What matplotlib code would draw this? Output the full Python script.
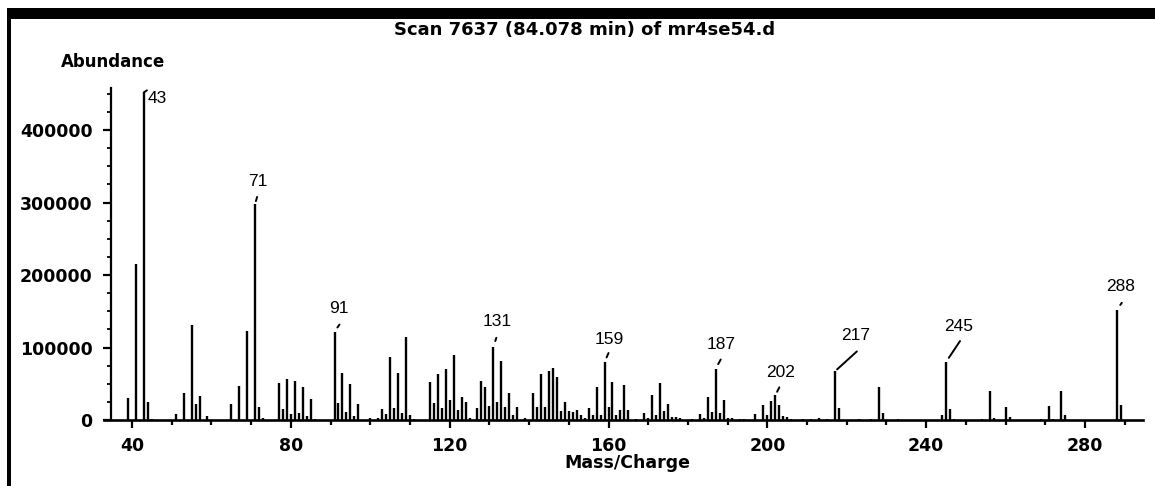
import matplotlib
matplotlib.use("Agg")
import matplotlib.pyplot as plt
from matplotlib.patches import Rectangle
from matplotlib.ticker import MultipleLocator, FixedLocator

# peak list (m/z, abundance)
mz = [39, 41, 43, 44, 45, 51, 53, 55, 56, 57, 59, 65, 67, 69, 71, 72, 73,
      77, 78, 79, 80, 81, 82, 83, 84, 85, 86, 91, 92, 93, 94, 95, 96, 97,
      100, 102, 103, 104, 105, 106, 107, 108, 109, 110, 111,
      115, 116, 117, 118, 119, 120, 121, 122, 123, 124, 125,
      127, 128, 129, 130, 131, 132, 133, 134, 135, 136, 137, 139,
      141, 142, 143, 144, 145, 146, 147, 148, 149, 150, 151, 152, 153, 154,
      155, 156, 157, 158, 159, 160, 161, 162, 163, 164, 165, 167, 169, 170,
      171, 172, 173, 174, 175, 176, 177, 178, 181, 183, 184, 185, 186, 187,
      188, 189, 190, 191, 193, 194, 197, 199, 200, 201, 202, 203, 204, 205,
      206, 209, 211, 213, 215, 217, 218, 223, 226, 228, 229, 233,
      244, 245, 246, 247, 254, 256, 257, 260, 261, 269, 271, 272, 274, 275,
      288, 289]
abundance = [30000, 215000, 452000, 25000, 2000, 8000, 37000, 131000, 22000, 33000, 6000,
             22000, 47000, 123000, 298000, 18000, 3000,
             51000, 15000, 56000, 8000, 54000, 10000, 45000, 5000, 29000, 2000,
             122000, 24000, 65000, 11000, 49000, 5000, 22000,
             3000, 3000, 15000, 8000, 87000, 17000, 65000, 9000, 114000, 7000, 2000,
             52000, 23000, 64000, 16000, 70000, 28000, 89000, 14000, 32000, 25000, 3000,
             17000, 54000, 46000, 19000, 101000, 25000, 82000, 18000, 37000, 7000, 18000, 3000,
             37000, 18000, 64000, 18000, 67000, 72000, 59000, 12000, 25000, 12000, 11000, 14000, 7000, 3000,
             17000, 7000, 46000, 7000, 80000, 18000, 53000, 7000, 14000, 48000, 14000, 2000, 9000, 3000,
             35000, 7000, 51000, 12000, 22000, 4000, 4000, 3000, 2000, 8000, 3000, 32000, 11000, 71000,
             10000, 28000, 3000, 3000, 2000, 2000, 8000, 21000, 7000, 26000, 34000, 21000, 5000, 4000,
             2000, 1500, 1500, 3000, 1500, 67000, 17000, 1500, 1500, 46000, 9000, 1500,
             7000, 80000, 15000, 2000, 2000, 40000, 3000, 18000, 4000, 2000, 20000, 2000, 40000, 7000,
             152000, 21000]

labelled = [43, 71, 91, 131, 159, 187, 202, 217, 245, 288]

# label placement, pixels relative to the peak top: (label dx, dy, leader start dist, leader end dx, dy)
px = 0.72
label_pos = {
    43: (4, -6, 0, 3, 2),
    71: (3, 22, 3, 2, 7),
    91: (4, 23, 5, 5, 7),
    131: (4, 25, 6, 3, 9),
    159: (5, 23, 5, 4, 9),
    187: (5, 24, 5, 5, 9),
    202: (5, 23, 4, 4, 8),
    217: (21, 36, 3, 22, 20),
    245: (13, 36, 5, 14, 21),
    288: (4, 23, 6, 5, 7),
}

fig = plt.figure(figsize=(11.55, 4.86), dpi=100)
ax = fig.add_axes([104 / 1155, 1 - 420 / 486, (1143 - 104) / 1155, (420 - 88) / 486])

ax.vlines(mz, 0, abundance, color="black", linewidth=1.7)

ax.set_xlim(32.95, 294.6)
ax.set_ylim(0, 458000)

ax.spines["top"].set_visible(False)
ax.spines["right"].set_visible(False)
ax.spines["left"].set_position(("data", 34.6))
ax.spines["left"].set_linewidth(1.6)
ax.spines["bottom"].set_linewidth(1.9)

ax.xaxis.set_major_locator(FixedLocator([40, 80, 120, 160, 200, 240, 280]))
ax.xaxis.set_minor_locator(MultipleLocator(10))
ax.yaxis.set_major_locator(FixedLocator([0, 100000, 200000, 300000, 400000]))
ax.yaxis.set_minor_locator(MultipleLocator(25000))

ax.tick_params(axis="x", which="major", length=6, width=1.6, pad=6, labelsize=12.5)
ax.tick_params(axis="x", which="minor", length=3.5, width=1.6)
ax.tick_params(axis="y", which="major", length=6, width=1.6, pad=7, labelsize=12.5)
ax.tick_params(axis="y", which="minor", length=3, width=1.3)
for t in ax.get_xticklabels() + ax.get_yticklabels():
    t.set_fontweight("bold")
ax.set_yticklabels(["0", "100000", "200000", "300000", "400000"], fontweight="bold")

for m in labelled:
    h = abundance[mz.index(m)]
    dx, dy, s, lx, ly = label_pos[m]
    ha = "left" if m == 43 else "center"
    ax.annotate(str(m), xy=(m, h), xytext=(dx * px, dy * px), textcoords="offset points",
                ha=ha, va="center", fontsize=12.5, family="Liberation Sans")
    ax.annotate("", xy=(m, h), xytext=(lx * px, ly * px), textcoords="offset points",
                arrowprops=dict(arrowstyle="-", lw=1.4, color="black", shrinkA=0, shrinkB=s * px))

fig.text(585 / 1155, 1 - 30 / 486, "Scan 7637 (84.078 min) of mr4se54.d",
         ha="center", va="center", fontsize=13, fontweight="bold")
fig.text(113 / 1155, 1 - 62 / 486, "Abundance", ha="center", va="center",
         fontsize=12, fontweight="bold")
fig.text(627 / 1155, 1 - 463 / 486, "Mass/Charge", ha="center", va="center",
         fontsize=12.5, fontweight="bold")

# frame left over from the printout: thick bar on top, line down the left
fig.add_artist(Rectangle((7 / 1155, 1 - 19 / 486), 1, 11 / 486, transform=fig.transFigure,
                         color="black", lw=0))
fig.add_artist(Rectangle((7 / 1155, 0), 4 / 1155, 1 - 8 / 486, transform=fig.transFigure,
                         color="black", lw=0))

fig.savefig("out.png", dpi=100)
